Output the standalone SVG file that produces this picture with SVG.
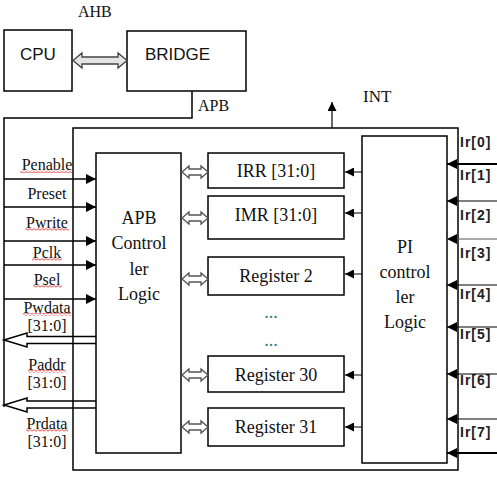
<svg xmlns="http://www.w3.org/2000/svg" width="497" height="482" viewBox="0 0 497 482">
<style>
.box{fill:#fff;stroke:#000;stroke-width:1.5}
.ln{fill:none;stroke:#000;stroke-width:1.5}
.serif{font-family:"Liberation Serif","Times New Roman",serif;fill:#111}
.sans{font-family:"Liberation Sans",Arial,sans-serif;fill:#111}
.lbl{font-size:16px;text-anchor:middle}
.big{font-size:18px;text-anchor:middle}
.ir{font-family:"Liberation Sans",Arial,sans-serif;font-weight:bold;font-size:14px;letter-spacing:1px;fill:#222}
.dbl{fill:#fff;stroke:#555;stroke-width:1.3}
.wavy{fill:url(#wv)}
</style>
<defs>
<marker id="ah" viewBox="0 0 10 10" refX="10" refY="5" markerWidth="10" markerHeight="10" markerUnits="userSpaceOnUse" orient="auto">
<path d="M0,0 L10,5 L0,10 Z" fill="#000"/>
</marker>
<marker id="ahs" viewBox="0 0 10 10" refX="10" refY="5" markerWidth="9" markerHeight="9" markerUnits="userSpaceOnUse" orient="auto">
<path d="M0,0 L10,5 L0,10 Z" fill="#000"/>
</marker>
<pattern id="wv" width="4" height="3" patternUnits="userSpaceOnUse">
<path d="M0,2.2 L2,0.6 L4,2.2" fill="none" stroke="#e02020" stroke-width="0.8"/>
</pattern>
</defs>

<g id="cpu">
<rect class="box" x="4" y="30" width="68" height="61"/>
<text class="sans" x="20" y="60" font-size="17">CPU</text>
</g>
<g id="bridge">
<rect class="box" x="127" y="31" width="119" height="60"/>
<text class="sans" x="145" y="60" font-size="17">BRIDGE</text>
</g>
<text id="ahb" class="serif" x="78" y="17" font-size="16">AHB</text>
<text id="apb" class="serif" x="198" y="111" font-size="16">APB</text>
<text id="int" class="serif" x="363" y="102" font-size="17">INT</text>

<g id="frame">
<rect x="73" y="128" width="385" height="342" class="ln" stroke-width="2"/>
</g>

<g id="apb-controller">
<rect class="box" x="96" y="153" width="85" height="300"/>
<text class="serif big" x="139" y="224">APB</text>
<text class="serif big" x="139" y="249">Control</text>
<text class="serif big" x="139" y="275">ler</text>
<text class="serif big" x="139" y="300">Logic</text>
</g>

<g id="pi-controller">
<rect class="box" x="362" y="136" width="85" height="327" stroke-width="2"/>
<text class="serif big" x="405" y="253">PI</text>
<text class="serif big" x="405" y="278">control</text>
<text class="serif big" x="405" y="303">ler</text>
<text class="serif big" x="405" y="328">Logic</text>
</g>

<g id="irr"><rect class="box" x="208" y="153" width="136" height="35" stroke-width="2"/><text class="serif big" x="276" y="177">IRR [31:0]</text></g>
<g id="imr"><rect class="box" x="208" y="196" width="136" height="43" stroke-width="2"/><text class="serif big" x="276" y="221">IMR [31:0]</text></g>
<g id="reg2"><rect class="box" x="208" y="257" width="136" height="38" stroke-width="2"/><text class="serif big" x="276" y="282">Register 2</text></g>
<g id="reg30"><rect class="box" x="208" y="356" width="136" height="36" stroke-width="2"/><text class="serif big" x="276" y="381">Register 30</text></g>
<g id="reg31"><rect class="box" x="208" y="408" width="136" height="38" stroke-width="2"/><text class="serif big" x="276" y="433">Register 31</text></g>
<text class="serif big" x="271" y="318" style="fill:#2a7a8a">...</text>
<text class="serif big" x="271" y="346" style="fill:#2a7a8a">...</text>

<g id="signal-labels">
<text class="serif lbl" x="47" y="170">Penable</text>
<text class="serif lbl" x="47" y="199">Preset</text>
<text class="serif lbl" x="47" y="228">Pwrite</text>
<text class="serif lbl" x="47" y="258">Pclk</text>
<text class="serif lbl" x="47" y="285">Psel</text>
<text class="serif lbl" x="47" y="313">Pwdata</text>
<text class="serif lbl" x="47" y="331">[31:0]</text>
<text class="serif lbl" x="47" y="370">Paddr</text>
<text class="serif lbl" x="47" y="388">[31:0]</text>
<text class="serif lbl" x="47" y="429">Prdata</text>
<text class="serif lbl" x="47" y="447">[31:0]</text>
</g>
<g id="spell-marks">
<rect class="wavy" x="20" y="170" width="52" height="3"/>
<rect class="wavy" x="25" y="228" width="44" height="3"/>
<rect class="wavy" x="32" y="258" width="30" height="3"/>
<rect class="wavy" x="33" y="285" width="29" height="3"/>
<rect class="wavy" x="23" y="313" width="48" height="3"/>
<rect class="wavy" x="28" y="370" width="38" height="3"/>
<rect class="wavy" x="26" y="429" width="42" height="3"/>
</g>

<g id="ir-labels">
<text class="ir" x="460" y="147">Ir[0]</text>
<text class="ir" x="460" y="180">Ir[1]</text>
<text class="ir" x="460" y="220">Ir[2]</text>
<text class="ir" x="460" y="258">Ir[3]</text>
<text class="ir" x="460" y="299">Ir[4]</text>
<text class="ir" x="460" y="339">Ir[5]</text>
<text class="ir" x="460" y="385">Ir[6]</text>
<text class="ir" x="460" y="437">Ir[7]</text>
</g>

<g id="connectors">
<polygon points="73,60.5 82,53 82,57 118,57 118,53 127,60.5 118,68 118,64 82,64 82,68" fill="#e4e4e4" stroke="#444" stroke-width="1.3"/>
<path class="ln" d="M192,91 V118 H4 V407"/>
<line x1="332" y1="128" x2="332" y2="102" stroke="#000" stroke-width="1.2" marker-end="url(#ahs)"/>
<line class="ln" x1="4" y1="179" x2="96" y2="179" marker-end="url(#ah)"/>
<line class="ln" x1="4" y1="207" x2="96" y2="207" marker-end="url(#ah)"/>
<line class="ln" x1="4" y1="241" x2="96" y2="241" stroke-width="2" marker-end="url(#ah)"/>
<line class="ln" x1="4" y1="265" x2="96" y2="265" marker-end="url(#ah)"/>
<line class="ln" x1="4" y1="299" x2="96" y2="299" stroke-width="2" marker-end="url(#ah)"/>
<path d="M96,336.5 H27 V333 L4,340 L27,347 V343.5 H96" fill="none" stroke="#000" stroke-width="1.5"/>
<path d="M96,401 H27 V398 L4,405 L27,412 V408 H96" fill="none" stroke="#000" stroke-width="1.5"/>
<polygon class="dbl" points="182,172 189,166 189,169 201,169 201,166 208,172 201,178 201,175 189,175 189,178"/>
<polygon class="dbl" points="182,218 189,212 189,215 201,215 201,212 208,218 201,224 201,221 189,221 189,224"/>
<polygon class="dbl" points="182,279 189,273 189,276 201,276 201,273 208,279 201,285 201,282 189,282 189,285"/>
<polygon class="dbl" points="182,375 189,369 189,372 201,372 201,369 208,375 201,381 201,378 189,378 189,381"/>
<polygon class="dbl" points="182,427 189,421 189,424 201,424 201,421 208,427 201,433 201,430 189,430 189,433"/>
<line x1="362" y1="172" x2="345" y2="172" stroke="#000" stroke-width="1" marker-end="url(#ahs)"/>
<line x1="362" y1="213" x2="345" y2="213" stroke="#000" stroke-width="1" marker-end="url(#ahs)"/>
<line x1="362" y1="274" x2="345" y2="274" stroke="#000" stroke-width="1" marker-end="url(#ahs)"/>
<line x1="362" y1="375" x2="345" y2="375" stroke="#000" stroke-width="1" marker-end="url(#ahs)"/>
<line x1="362" y1="427" x2="345" y2="427" stroke="#000" stroke-width="1" marker-end="url(#ahs)"/>
<line x1="497" y1="164" x2="447" y2="164" stroke="#000" stroke-width="2" marker-end="url(#ah)"/>
<line x1="497" y1="201" x2="447" y2="201" stroke="#000" stroke-width="1" marker-end="url(#ah)"/>
<line x1="497" y1="239" x2="447" y2="239" stroke="#555" stroke-width="1" marker-end="url(#ah)"/>
<line x1="497" y1="285" x2="447" y2="285" stroke="#000" stroke-width="1" marker-end="url(#ah)"/>
<line x1="497" y1="327" x2="447" y2="327" stroke="#000" stroke-width="1" marker-end="url(#ah)"/>
<line x1="497" y1="374" x2="447" y2="374" stroke="#000" stroke-width="1" marker-end="url(#ah)"/>
<line x1="497" y1="419" x2="447" y2="419" stroke="#000" stroke-width="1" marker-end="url(#ah)"/>
<line x1="497" y1="453" x2="447" y2="453" stroke="#000" stroke-width="2" marker-end="url(#ah)"/>
</g>
</svg>
